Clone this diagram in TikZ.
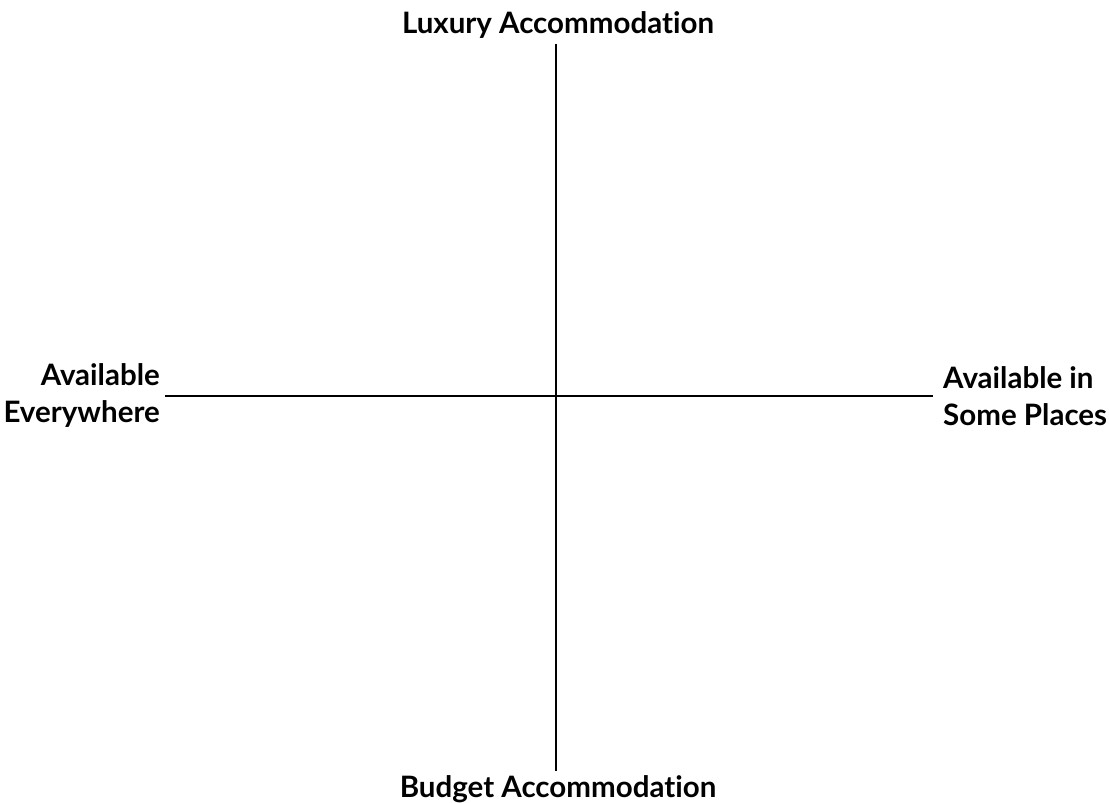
\documentclass[tikz,border=0pt]{standalone}
\usepackage{fontspec}
\setmainfont{Lato}[Ligatures={NoCommon}]
\usepackage{tikz}
\usetikzlibrary{positioning}

\begin{document}
\begin{tikzpicture}[x=1pt,y=-1pt,
  axislabel/.style={font=\fontsize{29.5}{37}\selectfont\bfseries, inner sep=0pt},
  axis/.style={line width=2.8pt}]
  \useasboundingbox (0,0) rectangle (1109,803);

  % Nodes
  \node[axislabel, anchor=base] (lux) at (558,33) {Luxury Accommodation};
  \node[axislabel, anchor=base] (bud) at (558,797) {Budget Accommodation};
  \node[axislabel, anchor=east, align=right] (every) at (160,396) {Available\\Everywhere};
  \node[axislabel, anchor=west, align=left] (some) at (943,396) {Available in\\Some Places};

  % Axes
  \draw[axis, shorten <=6pt, shorten >=4pt] (lux.south -| 556,0) -- (bud.north -| 556,0);
  \draw[axis, shorten <=5pt, shorten >=10pt] (every.east) -- (some.west);
\end{tikzpicture}
\end{document}
